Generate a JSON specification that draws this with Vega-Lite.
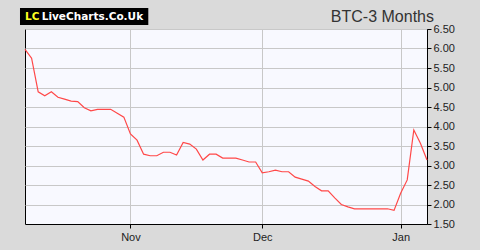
{
  "$schema": "https://vega.github.io/schema/vega-lite/v6.json",
  "autosize": "none",
  "width": 402,
  "height": 195,
  "padding": {"left": 25, "top": 29, "right": 53, "bottom": 26},
  "background": "#dadada",
  "config": {
    "view": {"fill": "#f8f9ff", "stroke": "#000000", "strokeWidth": 1},
    "axis": {
      "labelFont": "Liberation Sans",
      "labelFontSize": 11,
      "labelColor": "#222222",
      "domainColor": "#000000",
      "tickColor": "#000000",
      "tickSize": 4,
      "gridColor": "#c8c8c8",
      "gridWidth": 1,
      "labelOverlap": false,
      "labelFlush": false,
      "title": null
    }
  },
  "layer": [
    {
      "data": {
        "values": [
          {"t": 0, "v": 5.98}, {"t": 1, "v": 5.75}, {"t": 2, "v": 4.89}, {"t": 3, "v": 4.79},
          {"t": 4, "v": 4.89}, {"t": 5, "v": 4.75}, {"t": 6, "v": 4.70}, {"t": 7, "v": 4.65},
          {"t": 8, "v": 4.64}, {"t": 9, "v": 4.48}, {"t": 10, "v": 4.40}, {"t": 11, "v": 4.44},
          {"t": 12, "v": 4.44}, {"t": 13, "v": 4.44}, {"t": 14, "v": 4.34}, {"t": 15, "v": 4.24},
          {"t": 16, "v": 3.81}, {"t": 17, "v": 3.65}, {"t": 18, "v": 3.29}, {"t": 19, "v": 3.25},
          {"t": 20, "v": 3.25}, {"t": 21, "v": 3.34}, {"t": 22, "v": 3.34}, {"t": 23, "v": 3.27},
          {"t": 24, "v": 3.59}, {"t": 25, "v": 3.55}, {"t": 26, "v": 3.42}, {"t": 27, "v": 3.14},
          {"t": 28, "v": 3.29}, {"t": 29, "v": 3.29}, {"t": 30, "v": 3.19}, {"t": 31, "v": 3.19},
          {"t": 32, "v": 3.19}, {"t": 33, "v": 3.14}, {"t": 34, "v": 3.09}, {"t": 35, "v": 3.09},
          {"t": 36, "v": 2.81}, {"t": 37, "v": 2.84}, {"t": 38, "v": 2.88}, {"t": 39, "v": 2.84},
          {"t": 40, "v": 2.84}, {"t": 41, "v": 2.70}, {"t": 42, "v": 2.65}, {"t": 43, "v": 2.60},
          {"t": 44, "v": 2.46}, {"t": 45, "v": 2.35}, {"t": 46, "v": 2.35}, {"t": 47, "v": 2.17},
          {"t": 48, "v": 2.00}, {"t": 49, "v": 1.94}, {"t": 50, "v": 1.89}, {"t": 51, "v": 1.89},
          {"t": 52, "v": 1.89}, {"t": 53, "v": 1.89}, {"t": 54, "v": 1.89}, {"t": 55, "v": 1.89},
          {"t": 56, "v": 1.85}, {"t": 57, "v": 2.29}, {"t": 58, "v": 2.63}, {"t": 59, "v": 3.91},
          {"t": 60, "v": 3.57}, {"t": 61, "v": 3.14}
        ]
      },
      "mark": {"type": "line", "color": "#ff4848", "strokeWidth": 1.2},
      "encoding": {
        "x": {
          "field": "t",
          "type": "quantitative",
          "scale": {"domain": [0, 61], "nice": false, "zero": false},
          "axis": {
            "values": [16, 36, 57],
            "tickCount": 20,
            "labelExpr": "datum.value == 16 ? 'Nov' : datum.value == 36 ? 'Dec' : 'Jan'",
            "grid": true,
            "labelPadding": 3
          }
        },
        "y": {
          "field": "v",
          "type": "quantitative",
          "scale": {"domain": [1.5, 6.5], "nice": false, "zero": false},
          "axis": {
            "orient": "right",
            "values": [1.5, 2, 2.5, 3, 3.5, 4, 4.5, 5, 5.5, 6, 6.5],
            "tickCount": 11,
            "format": ".2f",
            "grid": true,
            "labelPadding": 2
          }
        }
      }
    },
    {
      "data": {"values": [{"label": "logo"}]},
      "mark": {"type": "rect", "color": "#000000", "clip": false},
      "encoding": {
        "x": {"datum": -0.76, "type": "quantitative"},
        "x2": {"datum": 18.71},
        "y": {"datum": 7.04, "type": "quantitative"},
        "y2": {"datum": 6.60}
      }
    },
    {
      "data": {"values": [{"label": "LC"}]},
      "mark": {"type": "text", "color": "#ffff22", "font": "DejaVu Sans", "fontWeight": "bold", "fontSize": 10.5, "align": "left", "baseline": "alphabetic", "clip": false},
      "encoding": {
        "x": {"datum": 0, "type": "quantitative"},
        "y": {"datum": 6.718, "type": "quantitative"},
        "text": {"field": "label"}
      }
    },
    {
      "data": {"values": [{"label": "LiveCharts.Co.Uk"}]},
      "mark": {"type": "text", "color": "#ffffff", "font": "DejaVu Sans", "fontWeight": "bold", "fontSize": 10.5, "align": "left", "baseline": "alphabetic", "clip": false},
      "encoding": {
        "x": {"datum": 2.54, "type": "quantitative"},
        "y": {"datum": 6.718, "type": "quantitative"},
        "text": {"field": "label"}
      }
    },
    {
      "data": {"values": [{"label": "BTC-3 Months"}]},
      "mark": {"type": "text", "color": "#333333", "font": "Liberation Sans", "fontSize": 16, "align": "right", "baseline": "alphabetic", "clip": false},
      "encoding": {
        "x": {"datum": 62.06, "type": "quantitative"},
        "y": {"datum": 6.667, "type": "quantitative"},
        "text": {"field": "label"}
      }
    }
  ]
}
